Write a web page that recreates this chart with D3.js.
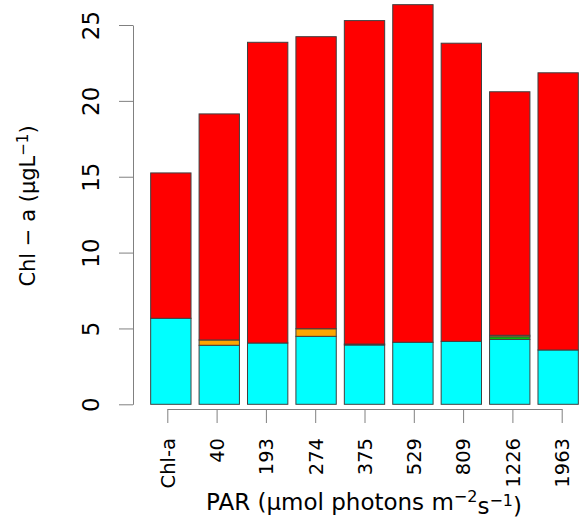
<!DOCTYPE html>
<html>
<head>
<meta charset="utf-8">
<script src="https://cdn.jsdelivr.net/npm/d3@7"></script>
<style>
  body { margin: 0; background: #fff; }
  text { font-family: "DejaVu Sans", sans-serif; fill: #000; }
</style>
</head>
<body>
<svg id="chart"></svg>
<script>
// PAR levels (first bar is the initial Chl-a)
const categories = ['Chl-a', '40', '193', '274', '375', '529', '809', '1226', '1963']

// stacked pigment groups, bottom to top
const cyanValues = [5.67, 3.89, 4.04, 4.48, 3.91, 4.09, 4.15, 4.28, 3.58]
const greenValues = [0, 0, 0, 0, 0, 0, 0, 0.17, 0]
const orangeValues = [0, 0.35, 0, 0.5, 0.06, 0, 0, 0.1, 0]
const redValues = [9.58, 14.9, 19.82, 19.25, 21.32, 22.25, 19.65, 16.05, 18.27]

const yTicks = [0, 5, 10, 15, 20, 25]

const keys = ['cyan', 'green', 'orange', 'red']
const colors = { cyan: '#00ffff', green: '#00cd00', orange: '#ffa500', red: '#ff0000' }

const svgWidth = 581
const svgHeight = 519

const svg = d3.select('#chart')
    .attr('width', svgWidth)
    .attr('height', svgHeight)

// table for d3.stack
const table = categories.map((c, i) => ({
    cat: c,
    cyan: cyanValues[i],
    green: greenValues[i],
    orange: orangeValues[i],
    red: redValues[i]
}))

const series = d3.stack().keys(keys)(table)

// bars (R barplot: space 0.2)
const x = d3.scaleBand()
    .domain(categories)
    .range([142.6, 586.4])
    .paddingInner(0.1667)
    .paddingOuter(0.1667)

// axis labels sit at their own positions
const xAxisPos = d3.scalePoint()
    .domain(categories)
    .range([167.3, 561.7])

const y = d3.scaleLinear()
    .domain([0, 25])
    .range([404.3, 25])

series.forEach(s => {
    svg.append('g')
        .selectAll('rect')
        .data(s)
        .join('rect')
        .attr('x', d => x(d.data.cat))
        .attr('width', x.bandwidth())
        .attr('y', d => y(d[1]))
        .attr('height', d => y(d[0]) - y(d[1]))
        .attr('fill', colors[s.key])
        .attr('stroke', '#404040')
        .attr('stroke-width', 1)
})

// y axis
const yAxis = svg.append('g')
    .attr('transform', 'translate(133,0)')
    .call(d3.axisLeft(y).tickValues(yTicks).tickSize(14).tickSizeOuter(0))
yAxis.select('.domain').attr('stroke', '#808080')
yAxis.selectAll('.tick line').attr('stroke', '#808080')
yAxis.selectAll('.tick text')
    .attr('font-size', '23px')
    .attr('font-family', '"DejaVu Sans", sans-serif')
    .attr('text-anchor', 'middle')
    .attr('x', 0)
    .attr('dy', '0.35em')
    .attr('transform', 'translate(-42,0) rotate(-90)')

// x axis
const xAxis = svg.append('g')
    .attr('transform', 'translate(0,409)')
    .call(d3.axisBottom(xAxisPos).tickSize(14).tickSizeOuter(0))
xAxis.select('.domain').attr('stroke', '#808080')
xAxis.selectAll('.tick line').attr('stroke', '#808080')
xAxis.selectAll('.tick text')
    .attr('font-size', '19.5px')
    .attr('font-family', '"DejaVu Sans", sans-serif')
    .attr('text-anchor', 'end')
    .attr('y', 0)
    .attr('x', 0)
    .attr('dy', '0.35em')
    .attr('transform', 'translate(0,29) rotate(-90)')

// y title
const yTitle = svg.append('text')
    .attr('transform', 'translate(28,206) rotate(-90)')
    .attr('text-anchor', 'middle')
    .attr('dy', '0.35em')
    .attr('font-size', '21px')
yTitle.append('tspan').text('Chl \u2212 a (\u03bcgL')
yTitle.append('tspan').attr('font-size', '15px').attr('dy', '-0.5em').text('\u22121')
yTitle.append('tspan').attr('dy', '0.35em').text(')')

// x title
const xTitle = svg.append('text')
    .attr('x', 364)
    .attr('y', 510)
    .attr('text-anchor', 'middle')
    .attr('font-size', '23px')
xTitle.append('tspan').text('PAR (\u03bcmol photons m')
xTitle.append('tspan').attr('font-size', '16px').attr('dy', '-0.5em').text('\u22122')
xTitle.append('tspan').attr('dy', '0.5em').text('s')
xTitle.append('tspan').attr('font-size', '16px').attr('dy', '-0.5em').text('\u22121')
xTitle.append('tspan').attr('dy', '0.35em').text(')')
</script>
</body>
</html>
